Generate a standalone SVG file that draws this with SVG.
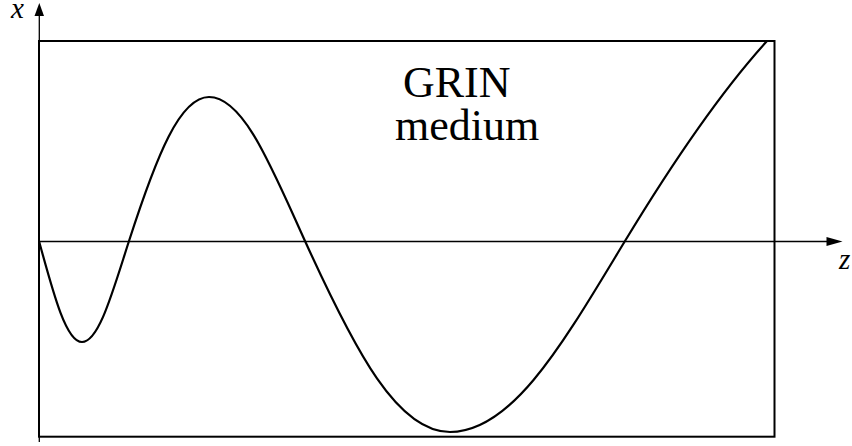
<svg xmlns="http://www.w3.org/2000/svg" width="852" height="446" viewBox="0 0 852 446">
<style>
.frame{fill:none;stroke:#000;stroke-width:2}
.axis{stroke:#000;stroke-width:1.3;fill:none}
.head{fill:#000;stroke:none}
.curve{fill:none;stroke:#000;stroke-width:2.2;stroke-linejoin:round}
.lbl{font-family:"Liberation Serif","Times New Roman",serif;fill:#000}
.var{font-style:italic;font-size:29px}
.title{font-size:44px}
</style>
<rect width="852" height="446" fill="#fff"/>
<g id="medium">
<rect class="frame" x="39" y="41" width="735.5" height="395.7"/>
<text class="lbl title" x="403" y="97">GRIN</text>
<text class="lbl title" x="395" y="140">medium</text>
</g>
<g id="connectors">
<line class="axis" x1="39.3" y1="442" x2="39.3" y2="15"/>
<polygon class="head" points="39.3,3 34.5,16 44,16"/>
<line class="axis" x1="39" y1="241.5" x2="828" y2="241.5"/>
<polygon class="head" points="842.5,241.5 826.5,237 826.5,246"/>
</g>
<g id="axis-labels">
<text class="lbl var" x="11" y="18">x</text>
<text class="lbl var" x="839" y="269">z</text>
</g>
<g id="ray">
<path class="curve" d="M39,241 C54.05,296.5 66.5,342 82,342 C98.9,342 112.55,292 129,241 C157,154.2 180.2,97 209,97 C243.6,97 271.4,167.1 305,241 C355.75,352.65 397.8,432 450,432 C513,432 563.75,342 625,241 C675,158.5 722,90.5 767,41"/>
</g>
</svg>
